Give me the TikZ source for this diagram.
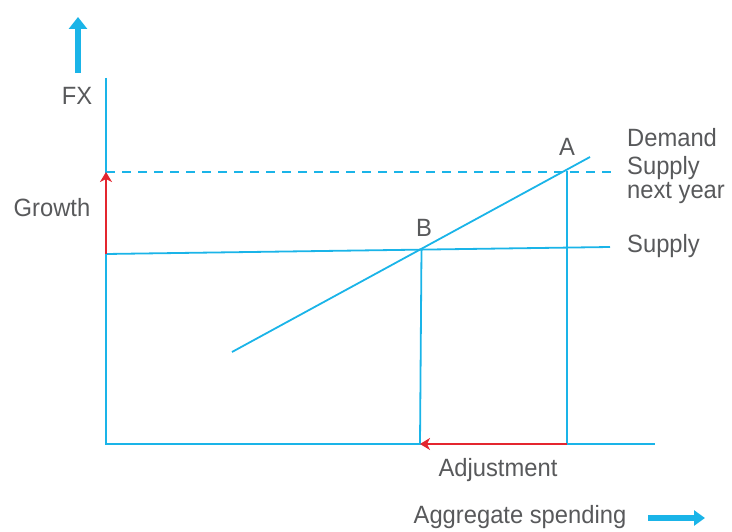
\documentclass[tikz,border=0pt]{standalone}
\usepackage{fontspec}
\setmainfont[FakeStretch=0.95]{Liberation Sans}
\usetikzlibrary{arrows.meta}
\definecolor{lineblue}{HTML}{1AB4E8}
\definecolor{arrred}{HTML}{E3262F}
\definecolor{txtgray}{HTML}{58595B}
\tikzset{
  bl/.style={draw=lineblue, line width=1.8pt},
  axis/.style={draw=lineblue, line width=2.4pt},
  redarr/.style={draw=arrred, line width=1.8pt, -{Stealth[length=10pt,width=12pt,inset=3pt]}},
  bigarr/.style={draw=lineblue, line width=6pt, -{Triangle[length=12pt,width=18pt]}},
  lbl/.style={text=txtgray, font=\fontsize{25}{24}\selectfont, inner sep=0pt},
}
\begin{document}
\begin{tikzpicture}[x=1pt,y=-1pt]
\useasboundingbox (0,0) rectangle (732,532);
% coordinates
\coordinate (O) at (106,444);
\coordinate (Ytop) at (106,78);
\coordinate (Xend) at (655,444);
\coordinate (S0) at (106,254);
\coordinate (S1) at (610,247);
\coordinate (D0) at (232,352);
\coordinate (D1) at (590,157);
\coordinate (B) at (421.5,249);
\coordinate (A) at (567,171);
\coordinate (Bb) at (420,444);
\coordinate (Ab) at (567,444);
\coordinate (G) at (106,172);
\coordinate (Dend) at (618,172);
% axes
\draw[axis] (Ytop) -- (O) -- (Xend);
% lines
\draw[bl, dashed, dash pattern=on 9pt off 7pt] (G) -- (Dend);
\draw[bl] (S0) -- (S1);
\draw[bl] (D0) -- (D1);
\draw[bl] (B) -- (Bb);
\draw[bl] (A) -- (Ab);
% red arrows
\draw[redarr] (S0) -- (G);
\draw[redarr] (Ab) -- (Bb);
% big arrows
\coordinate (FXa) at (78,73);
\coordinate (FXb) at (78,17);
\draw[bigarr] (FXa) -- (FXb);
\coordinate (AGa) at (648,518);
\coordinate (AGb) at (705,518);
\draw[bigarr, -{Triangle[length=11pt,width=15pt]}] (AGa) -- (AGb);
% labels
\node[lbl] (fx) at (77,96) {FX};
\node[lbl] (growth) at (52,208) {Growth};
\node[lbl] (lA) at (567,147) {A};
\node[lbl] (lB) at (424,228) {B};
\node[lbl, anchor=west] (dem) at (627,138) {Demand};
\node[lbl, anchor=west, align=left] (sny) at (627,180) {Supply\\next year};
\node[lbl, anchor=west] (sup) at (627,246) {Supply};
\node[lbl] (adj) at (498,470) {Adjustment};
\node[lbl] (agg) at (520,517) {Aggregate spending};
\end{tikzpicture}
\end{document}
